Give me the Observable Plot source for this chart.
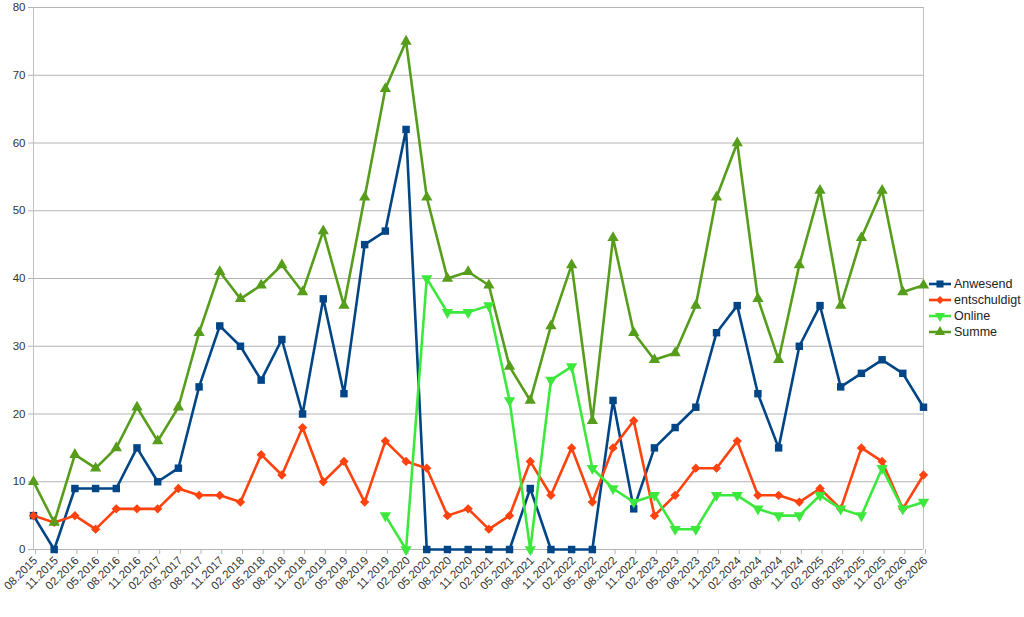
<!DOCTYPE html>
<html>
<head>
<meta charset="utf-8">
<script src="https://cdn.jsdelivr.net/npm/d3@7"></script>
<script src="https://cdn.jsdelivr.net/npm/@observablehq/plot@0.6"></script>
<style>
  html, body { margin: 0; padding: 0; background: #fff; }
  #wrap { position: relative; width: 1024px; height: 617px; font-family: "Liberation Sans", Arial, sans-serif; }
  #legend { position: absolute; left: 928px; top: 276px; font-size: 12.5px; color: #222; }
  #legend .row { display: flex; align-items: center; height: 16px; }
  #legend svg { margin-right: 2px; }
</style>
</head>
<body>
<div id="wrap"><div id="chart"></div><div id="legend"></div></div>
<script>
const categories = ["08.2015","11.2015","02.2016","05.2016","08.2016","11.2016","02.2017","05.2017","08.2017","11.2017","02.2018","05.2018","08.2018","11.2018","02.2019","05.2019","08.2019","11.2019","02.2020","05.2020","08.2020","11.2020","02.2021","05.2021","08.2021","11.2021","02.2022","05.2022","08.2022","11.2022","02.2023","05.2023","08.2023","11.2023","02.2024","05.2024","08.2024","11.2024","02.2025","05.2025","08.2025","11.2025","02.2026","05.2026"];
const anwesend = [5,0,9,9,9,15,10,12,24,33,30,25,31,20,37,23,45,47,62,0,0,0,0,0,9,0,0,0,22,6,15,18,21,32,36,23,15,30,36,24,26,28,26,21];
const entschuldigt = [5,4,5,3,6,6,6,9,8,8,7,14,11,18,10,13,7,16,13,12,5,6,3,5,13,8,15,7,15,19,5,8,12,12,16,8,8,7,9,6,15,13,6,11];
const online = [null,null,null,null,null,null,null,null,null,null,null,null,null,null,null,null,null,5,0,40,35,35,36,22,0,25,27,12,9,7,8,3,3,8,8,6,5,5,8,6,5,12,6,7];
const summe = [10,4,14,12,15,21,16,21,32,41,37,39,42,38,47,36,52,68,75,52,40,41,39,27,22,33,42,19,46,32,28,29,36,52,60,37,28,42,53,36,46,53,38,39];
const yTicks = [0,10,20,30,40,50,60,70,80];

const seriesDefs = [
  {name: "Anwesend", values: anwesend, color: "#004586", symbol: "square", rotate: 0, r: 4.2},
  {name: "entschuldigt", values: entschuldigt, color: "#ff420e", symbol: "diamond2", rotate: 0, r: 4.2},
  {name: "Online", values: online, color: "#3de83d", symbol: "triangle", rotate: 180, r: 4.2},
  {name: "Summe", values: summe, color: "#579d1c", symbol: "triangle", rotate: 0, r: 4.2}
];

const marks = [
  Plot.gridY(yTicks, {stroke: "#b3b3b3", strokeOpacity: 1, strokeWidth: 1}),
  Plot.ruleX([categories[0], categories[categories.length - 1]], {stroke: "#c0c0c0", strokeWidth: 1}),
  Plot.axisY(yTicks, {tickSize: 5, tickPadding: 3, stroke: "#b3b3b3", fill: "#333", fontSize: 11.5, label: null}),
  Plot.axisX({tickSize: 5, tickPadding: 4, tickRotate: -45, stroke: "#b3b3b3", fill: "#333", fontSize: 11.5, dx: 2, label: null})
];

for (const s of seriesDefs) {
  const rows = categories.map((c, i) => ({x: c, y: s.values[i]})).filter(d => d.y != null);
  marks.push(Plot.line(rows, {x: "x", y: "y", stroke: s.color, strokeWidth: 2.6, curve: "linear"}));
}
for (const s of seriesDefs) {
  const rows = categories.map((c, i) => ({x: c, y: s.values[i]})).filter(d => d.y != null);
  marks.push(Plot.dot(rows, {x: "x", y: "y", symbol: s.symbol, r: s.r, fill: s.color, stroke: "none", rotate: s.rotate}));
}

const chart = Plot.plot({
  width: 1024,
  height: 617,
  marginLeft: 33,
  marginRight: 101,
  marginTop: 7,
  marginBottom: 68,
  x: {type: "point", domain: categories, padding: 0, label: null},
  y: {domain: [0, 80], label: null},
  style: {fontFamily: "'Liberation Sans', Arial, sans-serif", fontSize: "11px", background: "white"},
  marks
});
document.getElementById("chart").appendChild(chart);

// Legend
const legend = d3.select("#legend");
const symbolPath = {
  square: d3.symbol(d3.symbolSquare, 50)(),
  diamond2: d3.symbol(d3.symbolDiamond2, 40)(),
  triangle: d3.symbol(d3.symbolTriangle, 45)()
};
for (const s of seriesDefs) {
  const row = legend.append("div").attr("class", "row");
  const sv = row.append("svg").attr("width", 24).attr("height", 12);
  sv.append("line").attr("x1", 1).attr("x2", 23).attr("y1", 6).attr("y2", 6).attr("stroke", s.color).attr("stroke-width", 2.6);
  sv.append("path").attr("d", symbolPath[s.symbol]).attr("transform", `translate(12,6) rotate(${s.rotate})`).attr("fill", s.color);
  row.append("span").text(s.name);
}
</script>
</body>
</html>
